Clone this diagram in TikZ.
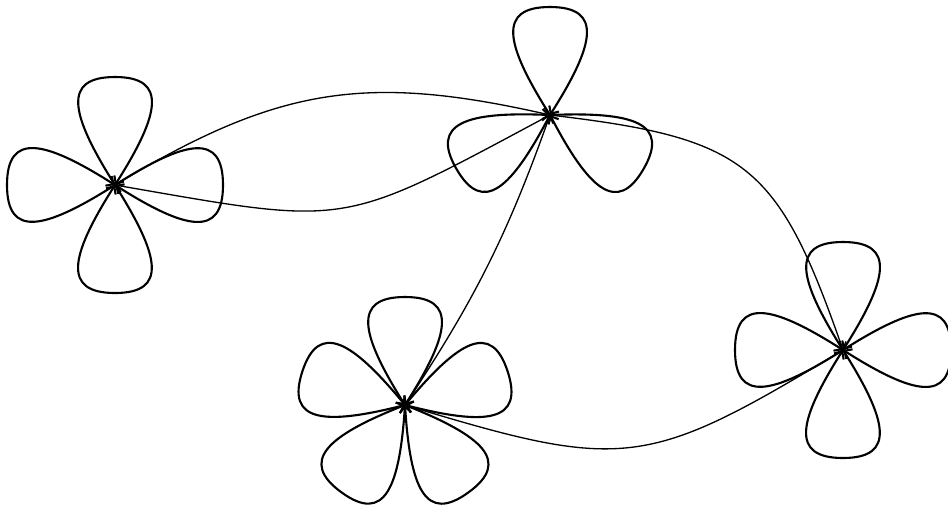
\documentclass[tikz,border=0pt]{standalone}
\usepackage{tikz}
\usetikzlibrary{arrows.meta}

\tikzset{
  petal/.style={line width=1.2pt},
  link/.style={line width=0.75pt},
}
% one loop at vertex #1, pointing in direction #2
\newcommand{\petalat}[2]{%
  \draw[->, petal, shift={(#1)}, rotate=#2]
    (0,0) .. controls (1.42,0.90) and (2.16,1.06) .. (2.16,0)
          .. controls (2.16,-1.06) and (1.42,-0.90) .. (0,0);}

\begin{document}
\begin{tikzpicture}[>={Straight Barb[length=3.5pt,width=6.5pt]}]
  \useasboundingbox (0,0) rectangle (18.96,-10.18);

  \coordinate (a) at (2.30, -3.70);
  \coordinate (b) at (11.00, -2.30);
  \coordinate (c) at (8.10, -8.10);
  \coordinate (d) at (16.86, -7.00);

  % loops at each vertex
  \foreach \ang in {0,90,180,270} {\petalat{a}{\ang}}
  \foreach \ang in {90,210,330} {\petalat{b}{\ang}}
  \foreach \ang in {18,90,162,234,306} {\petalat{c}{\ang}}
  \foreach \ang in {0,90,180,270} {\petalat{d}{\ang}}

  % edges between vertices
  \draw[->, link] (a) to[bend left=22, looseness=1.1] (b);
  \draw[->, link] (b) to[bend left=19, looseness=1.4] (a);
  \draw[->, link] (b) to[bend left=32, looseness=1.35] (d);
  \draw[->, link] (c) to[bend right=7] (b);
  \draw[->, link] (d) to[bend left=24, looseness=1.33] (c);
\end{tikzpicture}
\end{document}
